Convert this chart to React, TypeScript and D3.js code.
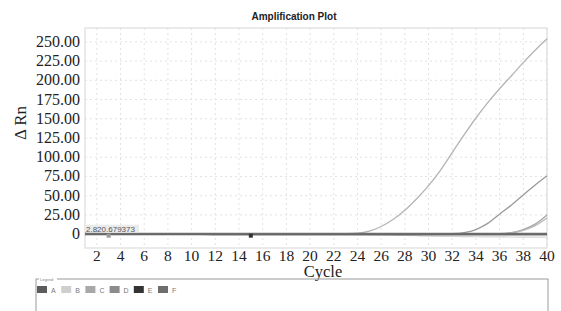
import React from "react";
import * as d3 from "d3";

// cycle numbers on the x axis
const cycles = [1, 2, 3, 4, 5, 6, 7, 8, 9, 10, 11, 12, 13, 14, 15, 16, 17, 18, 19, 20,
  21, 22, 23, 24, 25, 26, 27, 28, 29, 30, 31, 32, 33, 34, 35, 36, 37, 38, 39, 40];

const xTicks = [2, 4, 6, 8, 10, 12, 14, 16, 18, 20, 22, 24, 26, 28, 30, 32, 34, 36, 38, 40];
const yTicks = [0, 25, 50, 75, 100, 125, 150, 175, 200, 225, 250];

// delta Rn per well, one value per cycle
const wellB1 = [0.3, 0.2, 0.2, 0.1, 0.1, 0.0, 0.0, -0.1, 0.0, 0.1, 0.0, -0.1, 0.0, 0.0, 0.1, 0.0, 0.0, 0.1, 0.1, 0.2,
  0.3, 0.4, 0.6, 1.2, 4, 10, 19, 31, 46, 63, 83, 106, 129, 151, 171, 189, 206, 223, 239, 254];
const wellC1 = [0.1, 0.1, 0.0, 0.0, 0.1, 0.0, 0.0, 0.0, -0.1, 0.0, 0.0, 0.0, 0.1, 0.0, 0.0, 0.0, 0.0, 0.0, 0.0, 0.0,
  0.0, 0.0, 0.0, 0.0, 0.0, 0.0, 0.1, 0.1, 0.1, 0.2, 0.3, 0.6, 2, 6, 14, 26, 38, 51, 64, 76];
const wellD1 = [0.0, 0.0, 0.0, 0.1, 0.0, 0.0, 0.0, 0.0, 0.0, 0.0, 0.0, 0.0, 0.0, 0.0, 0.0, 0.0, 0.0, 0.0, 0.0, 0.0,
  0.0, 0.0, 0.0, 0.0, 0.0, 0.0, 0.0, 0.0, 0.0, 0.0, 0.0, 0.1, 0.1, 0.1, 0.2, 0.5, 2, 6, 13, 25];
const wellF1 = [0.0, 0.0, 0.0, 0.0, 0.0, 0.0, 0.0, 0.0, 0.0, 0.0, 0.0, 0.0, 0.0, 0.0, 0.0, 0.0, 0.0, 0.0, 0.0, 0.0,
  0.0, 0.0, 0.0, 0.0, 0.0, 0.0, 0.0, 0.0, 0.0, 0.0, 0.0, 0.0, 0.0, 0.1, 0.1, 0.3, 1.5, 5, 11, 21];
const wellB2 = [0.2, 0.1, 0.1, 0.0, 0.0, 0.0, 0.0, 0.0, 0.0, 0.0, 0.0, 0.0, 0.0, 0.0, 0.0, 0.0, 0.0, 0.0, 0.0, 0.0,
  0.0, 0.0, 0.0, -0.2, -0.5, -0.9, -1.3, -1.7, -2.1, -2.5, -2.8, -3.0, -3.2, -3.4, -3.5, -3.6, -3.7, -3.8, -3.9, -4.0];
const wellA1 = [0.5, 0.4, 0.3, 0.3, 0.2, 0.2, 0.2, 0.1, 0.1, 0.1, 0.1, 0.0, 0.0, 0.0, 0.0, 0.0, 0.0, 0.0, 0.0, 0.0,
  0.0, 0.0, 0.0, 0.0, 0.0, 0.0, 0.0, 0.0, 0.0, 0.0, 0.0, 0.0, 0.0, 0.0, 0.0, 0.0, 0.0, 0.0, 0.0, 0.0];
const wellE1 = [-0.3, -0.3, -0.4, -0.4, -0.4, -0.5, -0.5, -0.5, -0.5, -0.5, -0.5, -0.5, -0.5, -0.5, -0.5, -0.5, -0.5, -0.5, -0.5, -0.5,
  -0.5, -0.5, -0.5, -0.5, -0.5, -0.5, -0.5, -0.5, -0.5, -0.5, -0.5, -0.5, -0.5, -0.5, -0.5, -0.5, -0.5, -0.5, -0.5, -0.5];

const legendNames = ["A", "B", "C", "D", "E", "F"];
const legendColors = ["#5c5c5c", "#cfcfcf", "#a8a8a8", "#8c8c8c", "#333333", "#6e6e6e"];

const wells = [
  { group: "B", values: wellB2, color: "#d4d4d4", width: 1.2 },
  { group: "B", values: wellB1, color: "#b4b4b4", width: 1.3 },
  { group: "C", values: wellC1, color: "#9a9a9a", width: 1.3 },
  { group: "D", values: wellD1, color: "#a6a6a6", width: 1.3 },
  { group: "F", values: wellF1, color: "#b8b8b8", width: 1.3 },
  { group: "A", values: wellA1, color: "#6a6a6a", width: 2 },
  { group: "E", values: wellE1, color: "#555555", width: 1.5 },
];

const threshold = 0.6;
const thresholdLabel = "2.820.679373";
// baseline start / end markers
const markerCycles = [3, 15];
const markerColors = ["#9a9a9a", "#333333"];

export default function App() {
  const width = 561;
  const height = 311;
  const margin = { top: 28, right: 14, bottom: 63, left: 85 };

  const x = d3.scaleLinear()
    .domain([1, 40])
    .range([margin.left, width - margin.right]);
  const y = d3.scaleLinear()
    .domain([-18, 268])
    .range([height - margin.bottom, margin.top]);

  const line = d3.line<number>()
    .x((_, i) => x(cycles[i]))
    .y((d) => y(d))
    .curve(d3.curveMonotoneX);

  const serif = "'Liberation Serif', 'DejaVu Serif', serif";
  const sans = "'Liberation Sans', Arial, sans-serif";
  const plotW = width - margin.left - margin.right;
  const plotH = height - margin.top - margin.bottom;

  return (
    <svg width={width} height={height} style={{ position: "absolute", left: 0, top: 0, background: "#fff" }}>
      <text x={294} y={20} textAnchor="middle" fontFamily={sans} fontWeight="bold" fontSize={10} fill="#222">
        Amplification Plot
      </text>

      {/* grid */}
      <g stroke="#e2e2e2" strokeDasharray="2,3" strokeWidth={1}>
        {xTicks.map((t) => (
          <line key={"gx" + t} x1={x(t)} x2={x(t)} y1={margin.top} y2={height - margin.bottom} />
        ))}
        {yTicks.map((t) => (
          <line key={"gy" + t} x1={margin.left} x2={width - margin.right} y1={y(t)} y2={y(t)} />
        ))}
      </g>
      <rect x={margin.left} y={margin.top} width={plotW} height={plotH} fill="none" stroke="#dcdcdc" strokeWidth={1.2} />

      {/* y axis labels */}
      {yTicks.map((t) => (
        <text key={"ty" + t} x={margin.left - 5} y={y(t) + 5} textAnchor="end" fontFamily={serif} fontSize={16} fill="#222">
          {t === 0 ? "0" : d3.format(".2f")(t)}
        </text>
      ))}
      {/* x axis labels */}
      {xTicks.map((t) => (
        <text key={"tx" + t} x={x(t)} y={height - margin.bottom + 12.5} textAnchor="middle" fontFamily={serif} fontSize={15.5} fill="#222">
          {t}
        </text>
      ))}
      <text x={323} y={277} textAnchor="middle" fontFamily={serif} fontSize={16.5} fill="#222">Cycle</text>
      <text transform={`translate(26,123) rotate(-90)`} textAnchor="middle" fontFamily={serif} fontSize={17} fill="#222">
        Δ Rn
      </text>

      {/* curves */}
      {wells.map((w, i) => (
        <path key={"w" + i} d={line(w.values) ?? ""} fill="none" stroke={w.color} strokeWidth={w.width} />
      ))}
      <line x1={margin.left} x2={width - margin.right} y1={y(threshold)} y2={y(threshold)} stroke="#6e6e6e" strokeWidth={2} />
      <rect x={margin.left + 1} y={y(threshold) - 9} width={53} height={8} fill="#e6e6e6" opacity={0.8} />
      <text x={margin.left + 1} y={y(threshold) - 2} fontFamily={sans} fontSize={8} fill="#555">{thresholdLabel}</text>
      {markerCycles.map((c, i) => (
        <rect key={"m" + c} x={x(c) - 2} y={y(-2) - 2} width={4} height={4} fill={markerColors[i]} />
      ))}

      {/* legend */}
      <rect x={36} y={279} width={512} height={60} fill="none" stroke="#9a9a9a" strokeWidth={1} />
      <rect x={39} y={276} width={18} height={5} fill="#fff" />
      <text x={40} y={281} fontFamily={sans} fontSize={4} fill="#888">Legend</text>
      {legendNames.map((n, i) => (
        <g key={"l" + n} transform={`translate(${37 + i * 24.2},286)`}>
          <rect x={0} y={0} width={10} height={7} fill={legendColors[i]} />
          <text x={14} y={6.5} fontFamily={sans} fontSize={7} fill="#777">{n}</text>
        </g>
      ))}
    </svg>
  );
}
